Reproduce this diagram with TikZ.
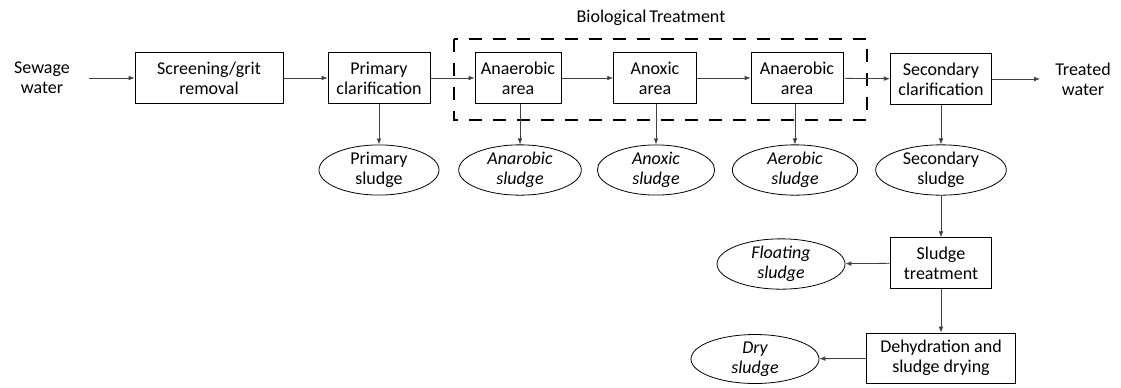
\documentclass[tikz,border=0pt]{standalone}
\usepackage{fontspec}
\setmainfont{Carlito}
\usepackage{tikz}
\usetikzlibrary{arrows.meta,shapes.geometric}

\begin{document}
\begin{tikzpicture}[x=0.75pt,y=-0.75pt,
    font=\fontsize{13.5pt}{15pt}\selectfont,
    proc/.style={draw,line width=0.6pt,align=center,minimum height=38pt,inner sep=1pt},
    sludgebox/.style={draw,ellipse,line width=0.6pt,align=center,minimum height=36pt,inner sep=0pt,font=\fontsize{13.5pt}{15pt}\selectfont\itshape},
    txt/.style={align=center,minimum width=70pt,inner sep=0pt},
    flow/.style={-{Latex[length=4.5pt,width=3.5pt]},line width=0.6pt,black!75}]
      \useasboundingbox (0,0) rectangle (1121,387);
      \node[txt] (A) at (42,78) {Sewage\\water};
      \node[proc,minimum width=111pt] (B) at (209,78) {Screening/grit\\removal};
      \node[proc,minimum width=76.5pt] (C) at (379,78) {Primary\\clarification};
      \node[proc,minimum width=64.5pt] (D) at (518,78) {Anaerobic\\area};
      \node[proc,minimum width=62pt] (E) at (655,78) {Anoxic\\area};
      \node[proc,minimum width=69pt] (F) at (797,78) {Anaerobic\\area};
      \node[proc,minimum width=76pt] (G) at (941,79) {Secondary\\clarification};
      \node[txt,minimum width=64pt] (H) at (1083,79) {Treated\\water};
        % sludge outputs
      \node[sludgebox,minimum width=90pt,font=\fontsize{13.5pt}{15pt}\selectfont] (I) at (379,170) {Primary\\sludge};
      \node[sludgebox,minimum width=92pt] (J) at (520,170) {Anarobic\\sludge};
      \node[sludgebox,minimum width=88pt] (K) at (656,170) {Anoxic\\sludge};
      \node[sludgebox,minimum width=94pt] (L) at (795,170) {Aerobic\\sludge};
      \node[sludgebox,minimum width=98pt,font=\fontsize{13.5pt}{15pt}\selectfont] (M) at (941,170) {Secondary\\sludge};
      \node[proc,minimum width=76pt] (N) at (941,263) {Sludge\\treatment};
      \node[sludgebox,minimum width=96pt,minimum height=35pt] (O) at (781,264) {Floating\\sludge};
      \node[proc,minimum width=112pt,minimum height=37.5pt] (P) at (941,358) {Dehydration and\\sludge drying};
      \node[sludgebox,minimum width=96pt,minimum height=35pt] (Q) at (755,359) {Dry\\sludge};
        % biological treatment frame
      \draw[line width=2pt,dash pattern=on 10pt off 8pt] (454,39) rectangle (867,120);
      \node (R) at (651,18) {Biological\,Treatment};
      \draw[flow] (A) -- (B);
      \draw[flow] (B) -- (C);
      \draw[flow] (C) -- (D);
      \draw[flow] (D) -- (E);
      \draw[flow] (E) -- (F);
      \draw[flow] (F) -- (G);
      \draw[flow] (G) -- (H);
      \draw[flow] (C) -- (I);
      \draw[flow] (D.south -| J) -- (J);
      \draw[flow] (E.south -| K) -- (K);
      \draw[flow] (F.south -| L) -- (L);
      \draw[flow] (G) -- (M);
      \draw[flow] (M) -- (N);
      \draw[flow] (N) -- (O);
      \draw[flow] (N) -- (P);
      \draw[flow] (P) -- (Q);
    \end{tikzpicture}
\end{document}
